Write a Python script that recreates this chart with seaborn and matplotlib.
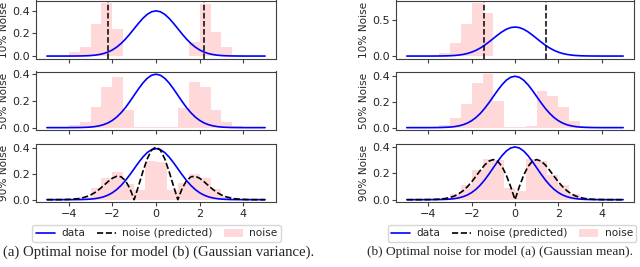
import numpy as np
import pandas as pd
import matplotlib
matplotlib.use("Agg")
import matplotlib.pyplot as plt
import seaborn as sns
from matplotlib.lines import Line2D
from matplotlib.patches import Patch

# ---------------- data ----------------
# curve sample positions (x from -5 to 5, step 0.2), right half values listed, mirrored
x_half = [0.0, 0.2, 0.4, 0.6, 0.8, 1.0, 1.2, 1.4, 1.6, 1.8, 2.0, 2.2, 2.4, 2.6,
          2.8, 3.0, 3.2, 3.4, 3.6, 3.8, 4.0, 4.2, 4.4, 4.6, 4.8, 5.0]
data_half = [0.3989, 0.3910, 0.3683, 0.3332, 0.2897, 0.2420, 0.1942, 0.1497, 0.1109,
             0.0790, 0.0540, 0.0355, 0.0224, 0.0136, 0.0079, 0.0044, 0.0024, 0.0012,
             0.0006, 0.0003, 0.0001, 0.0, 0.0, 0.0, 0.0, 0.0]
pred_var_half = [0.4121, 0.3878, 0.3196, 0.2203, 0.1077, 0.0, 0.0883, 0.1485, 0.1787,
                 0.1828, 0.1674, 0.1408, 0.1102, 0.0809, 0.0558, 0.0364, 0.0229, 0.0131,
                 0.0074, 0.0042, 0.0021, 0.0010, 0.0005, 0.0002, 0.0001, 0.0]
pred_mean_half = [0.0, 0.0980, 0.1846, 0.2505, 0.2904, 0.3033, 0.2920, 0.2626, 0.2224,
                  0.1782, 0.1353, 0.0979, 0.0674, 0.0443, 0.0277, 0.0166, 0.0096, 0.0051,
                  0.0027, 0.0014, 0.0007, 0.0003, 0.0001, 0.0, 0.0, 0.0]

# histogram bins (edges -4..4, width 0.5)
bin_edges = [-4.0, -3.5, -3.0, -2.5, -2.0, -1.5, -1.0, -0.5, 0.0,
             0.5, 1.0, 1.5, 2.0, 2.5, 3.0, 3.5, 4.0]
# (a) Gaussian variance model
hist_a10 = [0.037, 0.076, 0.280, 0.467, 0.243, 0.004, 0.003, 0.003,
            0.003, 0.003, 0.004, 0.120, 0.460, 0.210, 0.076, 0.012]
hist_a50 = [0.018, 0.043, 0.155, 0.300, 0.380, 0.135, 0.003, 0.003,
            0.003, 0.003, 0.148, 0.343, 0.305, 0.130, 0.043, 0.010]
hist_a90 = [0.005, 0.020, 0.090, 0.172, 0.220, 0.125, 0.075, 0.300,
            0.295, 0.075, 0.128, 0.203, 0.172, 0.085, 0.030, 0.005]
vlines_a = [-2.22, 2.22]
# (b) Gaussian mean model
hist_b10 = [0.000, 0.037, 0.180, 0.446, 0.727, 0.590, 0.005, 0.005,
            0.005, 0.005, 0.005, 0.005, 0.005, 0.005, 0.003, 0.000]
hist_b50 = [0.000, 0.019, 0.075, 0.187, 0.348, 0.415, 0.208, 0.004,
            0.005, 0.010, 0.283, 0.247, 0.161, 0.055, 0.015, 0.000]
hist_b90 = [0.003, 0.015, 0.045, 0.110, 0.226, 0.308, 0.300, 0.085,
            0.065, 0.310, 0.290, 0.190, 0.113, 0.045, 0.012, 0.003]
vlines_b = [-1.42, 1.42]

row_labels = ["10% Noise", "50% Noise", "90% Noise"]
xticks = [-4, -2, 0, 2, 4]
yticks_a = [[0.0, 0.2, 0.4], [0.0, 0.2, 0.4], [0.0, 0.2, 0.4]]
yticks_b = [[0.0, 0.5], [0.0, 0.2, 0.4], [0.0, 0.2, 0.4]]
legend_labels = ["data", "noise (predicted)", "noise"]
captions = ["(a) Optimal noise for model (b) (Gaussian variance).",
            "(b) Optimal noise for model (a) (Gaussian mean)."]

# ---------------- build arrays ----------------
xs = np.array([-v for v in x_half[::-1]] + x_half[1:])
mirror = lambda h: np.array(h[::-1] + h[1:])
data_pdf = mirror(data_half)
pred_var = mirror(pred_var_half)
pred_mean = mirror(pred_mean_half)
edges = np.array(bin_edges)
centers = (edges[:-1] + edges[1:]) / 2

# ---------------- figure ----------------
sns.set_style("ticks")
plt.rcParams["font.family"] = ["DejaVu Sans"]
W, H = 640, 267
fig = plt.figure(figsize=(W / 100, H / 100), dpi=100)

FS = 8.0
LFS = 7.6
BLUE = "#0000ff"
PINK = "red"
SPINE = "0.25"

rows_px = [(0.5, 58.7), (71.5, 130.3), (144.3, 202.3)]
cols_px = [(36, 276), (396, 634)]
legend_cx = [156.5, 512]
caption_cx = [159, 500]
caption_fs = [10.6, 9.6]

columns = [
    dict(hists=[hist_a10, hist_a50, hist_a90], vlines=vlines_a, pred=pred_var, yticks=yticks_a),
    dict(hists=[hist_b10, hist_b50, hist_b90], vlines=vlines_b, pred=pred_mean, yticks=yticks_b),
]

for ci, col in enumerate(columns):
    x0, x1 = cols_px[ci]
    for ri in range(3):
        y0, y1 = rows_px[ri]
        ax = fig.add_axes([x0 / W, 1 - y1 / H, (x1 - x0) / W, (y1 - y0) / H])
        heights = col["hists"][ri]
        hdf = pd.DataFrame({"x": centers, "density": heights})
        sns.histplot(data=hdf, x="x", weights="density", bins=list(bin_edges), ax=ax,
                     stat="count", color=PINK, alpha=0.15, linewidth=0, legend=False)
        sns.lineplot(x=xs, y=data_pdf, ax=ax, color=BLUE, lw=1.2)
        ymax = max(max(heights), data_pdf.max())
        if ri == 0:
            for v in col["vlines"]:
                ax.axvline(v, color="black", ls="--", lw=1.1)
        if ri == 2:
            sns.lineplot(x=xs, y=col["pred"], ax=ax, color="black", lw=1.2,
                         linestyle="--")
            ymax = max(ymax, col["pred"].max())
        ax.set_xlim(-5.5, 5.5)
        ax.set_ylim(-0.05 * ymax, 1.05 * ymax)
        ax.set_xticks(xticks)
        ax.set_yticks(col["yticks"][ri])
        ax.set_yticklabels([f"{t:.1f}" for t in col["yticks"][ri]])
        if ri < 2:
            ax.set_xticklabels([])
        else:
            ax.set_xticklabels([f"{t}".replace("-", "\u2212") for t in xticks])
        ax.set_xlabel("")
        ax.set_ylabel(row_labels[ri], fontsize=7.6, labelpad=2.5)
        ax.tick_params(labelsize=FS, length=3, width=0.8, pad=1.5, color=SPINE)
        for s in ax.spines.values():
            s.set_color(SPINE)
            s.set_linewidth(0.8)

    handles = [Line2D([], [], color=BLUE, lw=1.2),
               Line2D([], [], color="black", lw=1.2, ls="--"),
               Patch(facecolor=PINK, alpha=0.15, linewidth=0)]
    fig.legend(handles, legend_labels, loc="center",
               bbox_to_anchor=(legend_cx[ci] / W, 1 - 233.5 / H),
               ncol=3, fontsize=LFS, frameon=True, edgecolor="0.8", fancybox=True,
               handlelength=1.8, columnspacing=1.1, handletextpad=0.6, borderpad=0.3)

    fig.text(caption_cx[ci] / W, 1 - 252 / H, captions[ci], ha="center", va="center",
             fontsize=caption_fs[ci], family=["Liberation Serif", "DejaVu Serif"])

fig.savefig("out.png", dpi=100)
